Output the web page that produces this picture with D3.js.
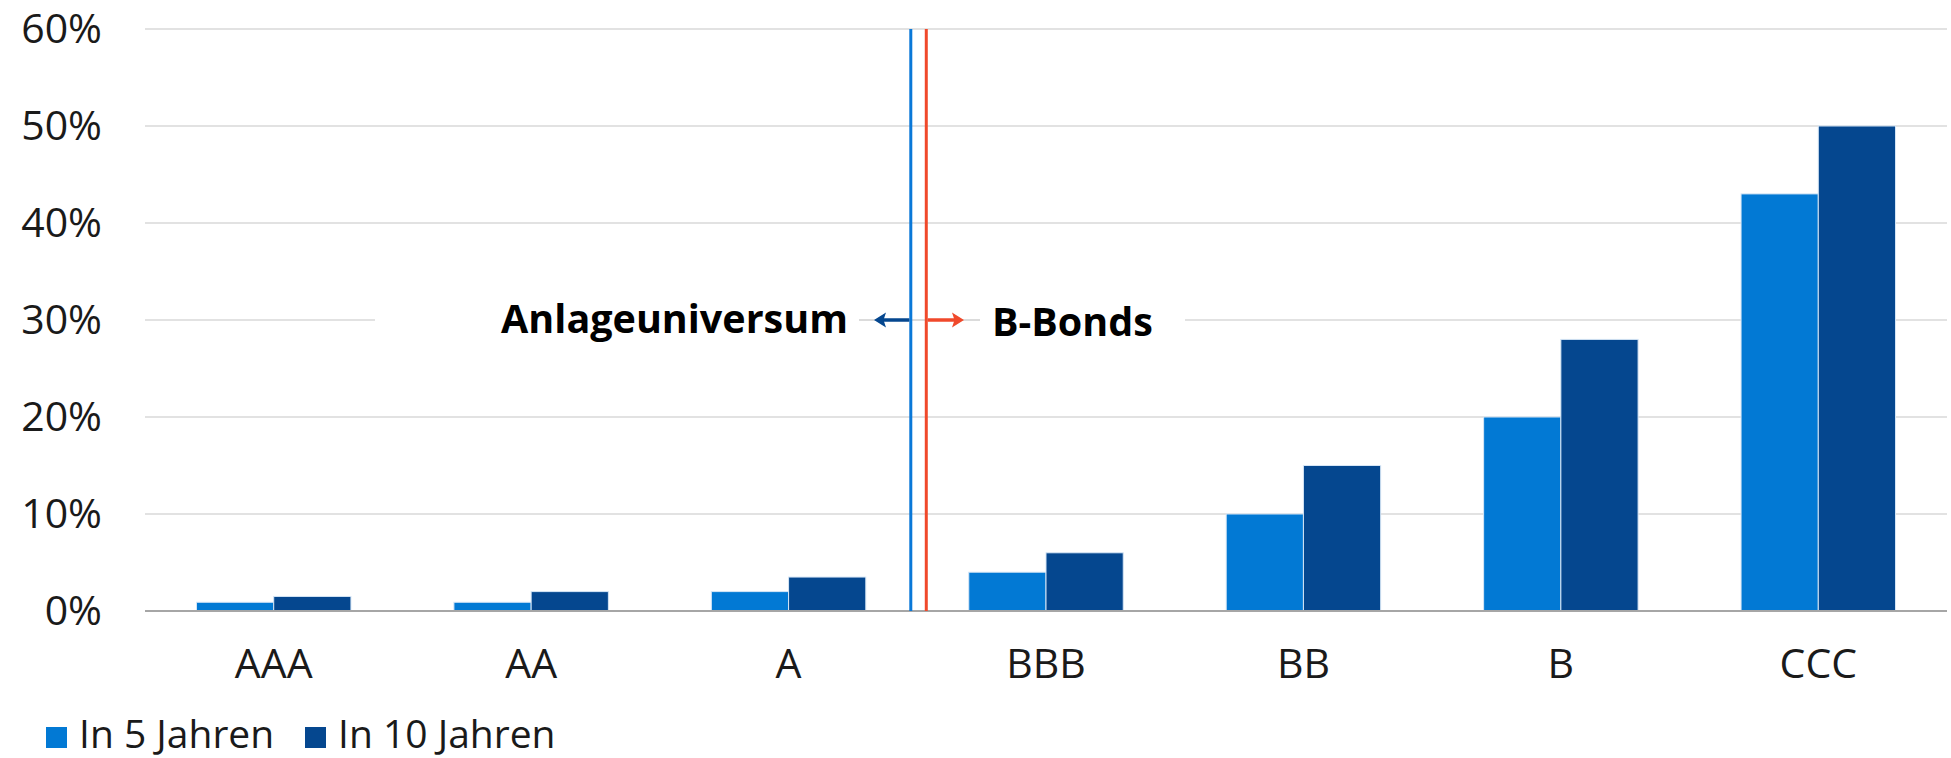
<!DOCTYPE html>
<html>
<head>
<meta charset="utf-8">
<script src="https://cdn.jsdelivr.net/npm/d3@7"></script>
<style>
  html, body { margin: 0; padding: 0; background: #fff; }
  svg { display: block; font-family: "Open Sans", "Noto Sans", sans-serif; }
</style>
</head>
<body>
<svg id="chart" width="1951" height="758"></svg>
<script>
// ---- data ----
const categories = ["AAA", "AA", "A", "BBB", "BB", "B", "CCC"];
const seriesNames = ["In 5 Jahren", "In 10 Jahren"];
const in5Jahren  = [0.9, 0.9, 2, 4, 10, 20, 43];
const in10Jahren = [1.5, 2, 3.5, 6, 15, 28, 50];
const yTicks = [0, 10, 20, 30, 40, 50, 60];
const leftLabel = "Anlageuniversum";
const rightLabel = "B-Bonds";
const dividerAfter = "A";      // boundary between A and BBB
const arrowLevel = 30;         // value at which arrows sit

const colors = ["#0279D4", "#05478F"];
const divColors = { left: "#0A78D8", right: "#F0492B", leftArrow: "#05478F" };
const textColor = "#1a1a1a";

const svg = d3.select("#chart");
const W = 1951, H = 758;
const m = { left: 145, right: 4, top: 29, bottom: 147 };

const x = d3.scaleBand().domain(categories)
  .range([m.left, W - m.right]).paddingInner(0.4).paddingOuter(0.2);
const xs = d3.scaleBand().domain(seriesNames).range([0, x.bandwidth()]);
const y = d3.scaleLinear().domain([0, 60]).range([H - m.bottom, m.top]);

// gridlines
svg.append("g").selectAll("line").data(yTicks.filter(d => d > 0)).join("line")
  .attr("x1", m.left).attr("x2", W - m.right)
  .attr("y1", d => y(d)).attr("y2", d => y(d))
  .attr("stroke", "#D9D9D9").attr("stroke-width", 1.5);

// y labels
const yAxis = d3.axisLeft(y).tickValues(yTicks).tickFormat(d => d + "%").tickSize(0).tickPadding(0);
const gy = svg.append("g").attr("transform", `translate(${102},0)`).call(yAxis);
gy.select(".domain").remove();
gy.selectAll("text").attr("font-size", 41).attr("fill", textColor).attr("font-weight", 400)
  .attr("font-family", "'Open Sans', sans-serif").attr("dy", "0.33em");

// bars
const data = categories.map((c, i) => ({ c, vals: [in5Jahren[i], in10Jahren[i]] }));
const groups = svg.append("g").selectAll("g").data(data).join("g")
  .attr("transform", d => `translate(${x(d.c)},0)`);
groups.selectAll("rect").data(d => d.vals.map((v, k) => ({ v, k }))).join("rect")
  .attr("x", d => xs(seriesNames[d.k]))
  .attr("width", xs.bandwidth())
  .attr("y", d => y(d.v))
  .attr("height", d => y(0) - y(d.v))
  .attr("fill", d => colors[d.k])
  .attr("stroke", "#D6E6F6").attr("stroke-width", 1);

// x axis
const xAxis = d3.axisBottom(x).tickSize(0).tickPadding(0);
const gx = svg.append("g").attr("transform", `translate(0,${y(0)})`).call(xAxis);
gx.select(".domain").remove();
gx.selectAll("text").attr("font-size", 41).attr("fill", textColor).attr("font-weight", 400)
  .attr("font-family", "'Open Sans', sans-serif").attr("dy", 0).attr("y", 67);
svg.append("line").attr("x1", m.left).attr("x2", W - m.right)
  .attr("y1", y(0)).attr("y2", y(0)).attr("stroke", "#A6A6A6").attr("stroke-width", 2);

// divider lines
const boundary = x(dividerAfter) + x.bandwidth() + x.step() * x.paddingInner() / 2;
const bx = boundary - 6.5, rx = boundary + 9;
const ay = y(arrowLevel);

// white boxes behind labels (masking gridline)
svg.append("rect").attr("x", 375).attr("y", ay - 25).attr("width", 859 - 375).attr("height", 50).attr("fill", "#fff");
svg.append("rect").attr("x", 980).attr("y", ay - 25).attr("width", 1185 - 980).attr("height", 50).attr("fill", "#fff");
svg.append("line").attr("x1", 859).attr("x2", 980).attr("y1", ay).attr("y2", ay)
  .attr("stroke", "#D9D9D9").attr("stroke-width", 1.5);

svg.append("line").attr("x1", bx).attr("x2", bx).attr("y1", y(60)).attr("y2", y(0))
  .attr("stroke", divColors.left).attr("stroke-width", 3);
svg.append("line").attr("x1", rx).attr("x2", rx).attr("y1", y(60)).attr("y2", y(0))
  .attr("stroke", divColors.right).attr("stroke-width", 3);

// arrows (shaft + triangular head)
function arrow(x0, x1, color) {
  const dir = Math.sign(x1 - x0);
  const headLen = 12, headHalf = 7.5;
  svg.append("line").attr("x1", x0).attr("x2", x1 - dir * (headLen - 3)).attr("y1", ay).attr("y2", ay)
    .attr("stroke", color).attr("stroke-width", 3.5);
  svg.append("path")
    .attr("d", `M${x1},${ay} L${x1 - dir * headLen},${ay - headHalf} L${x1 - dir * (headLen - 2.5)},${ay} L${x1 - dir * headLen},${ay + headHalf} Z`)
    .attr("fill", color);
}
arrow(bx - 1.5, 874, divColors.leftArrow);
arrow(rx + 1.5, 964, divColors.right);

// labels
svg.append("text").attr("x", 848).attr("y", ay + 13).attr("text-anchor", "end")
  .attr("font-size", 39.5).attr("font-weight", 700).attr("fill", "#000").text(leftLabel);
svg.append("text").attr("x", 992).attr("y", ay + 16).attr("text-anchor", "start")
  .attr("font-size", 39.5).attr("font-weight", 700).attr("fill", "#000").text(rightLabel);

// legend
const legend = svg.append("g");
const legX = [46, 305], legTextX = [79, 338];
seriesNames.forEach((s, i) => {
  legend.append("rect").attr("x", legX[i]).attr("y", 727).attr("width", 21).attr("height", 21).attr("fill", colors[i]);
  legend.append("text").attr("x", legTextX[i]).attr("y", 748).attr("font-size", 39).attr("font-weight", 400)
    .attr("fill", textColor).text(s);
});
</script>
</body>
</html>
